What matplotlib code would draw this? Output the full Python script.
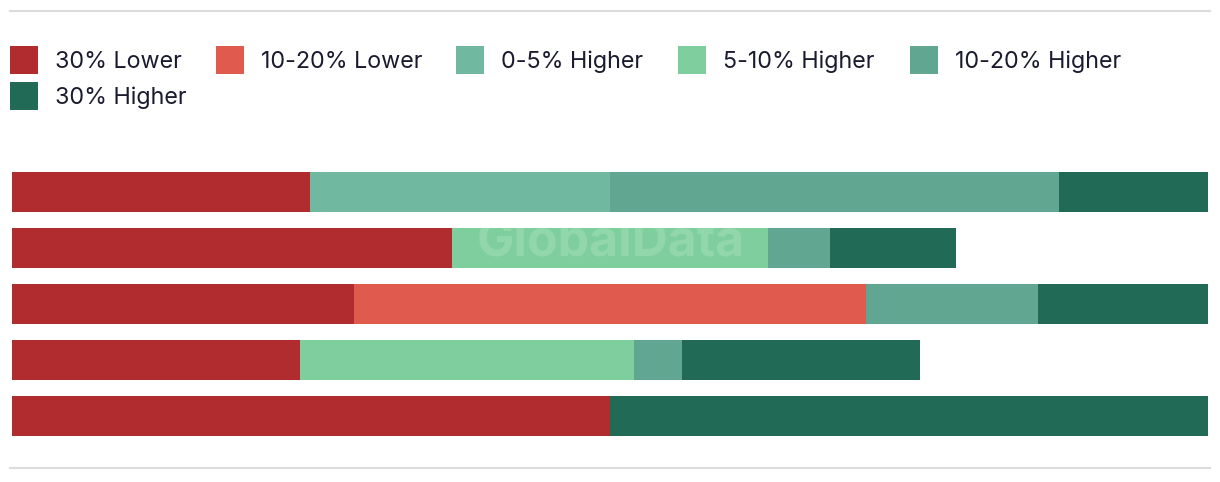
import matplotlib
matplotlib.use("Agg")
import matplotlib.pyplot as plt
from matplotlib.patches import Rectangle
from matplotlib.lines import Line2D
import numpy as np

plt.rcParams['font.family'] = ['Inter', 'DejaVu Sans']

labels = ["30% Lower", "10-20% Lower", "0-5% Higher", "5-10% Higher", "10-20% Higher", "30% Higher"]
colors = ["#b02c2e", "#e05a4e", "#70b9a0", "#7fcf9e", "#60a690", "#206a56"]

rows = [0, 1, 2, 3, 4]
lower30 = [24.9, 36.8, 28.6, 24.1, 50.0]
lower10_20 = [0, 0, 42.8, 0, 0]
higher0_5 = [25.1, 0, 0, 0, 0]
higher5_10 = [0, 26.4, 0, 27.9, 0]
higher10_20 = [37.5, 5.2, 14.4, 4.0, 0]
higher30 = [12.5, 10.5, 14.2, 19.9, 50.0]

series = [lower30, lower10_20, higher0_5, higher5_10, higher10_20, higher30]

W, H = 1220, 482
fig = plt.figure(figsize=(W / 100, H / 100), dpi=100)

ax = fig.add_axes([12 / W, (H - 444) / H, 1196 / W, 280 / H])
left = np.zeros(len(rows))
for vals, col in zip(series, colors):
    vals = np.array(vals)
    ax.barh(rows, vals, left=left, height=40 / 56, color=col, linewidth=0)
    left += vals
ax.set_xlim(0, 100)
ax.set_ylim(4.5, -0.5)
ax.axis("off")

# watermark
fig.text(611 / W, 1 - 243 / H, "GlobalData", ha="center", va="center",
         fontsize=36, fontweight="bold", color="white", alpha=0.15)

# top / bottom rules
for yy in (11, 468):
    fig.add_artist(Line2D([10 / W, 1210 / W], [1 - yy / H, 1 - yy / H],
                          color="#dcdcdc", linewidth=1.5))

# legend
leg_x = [10, 216, 456, 678, 910, 10]
leg_y = [60, 60, 60, 60, 60, 96]
for lab, col, lx, ly in zip(labels, colors, leg_x, leg_y):
    fig.add_artist(Rectangle((lx / W, 1 - (ly + 14) / H), 28 / W, 28 / H,
                             transform=fig.transFigure, color=col, linewidth=0))
    fig.text((lx + 45) / W, 1 - (ly + 1.5) / H, lab, ha="left", va="center",
             fontsize=16.8, color="#1b1b2f")

fig.savefig("out.png", dpi=100)
